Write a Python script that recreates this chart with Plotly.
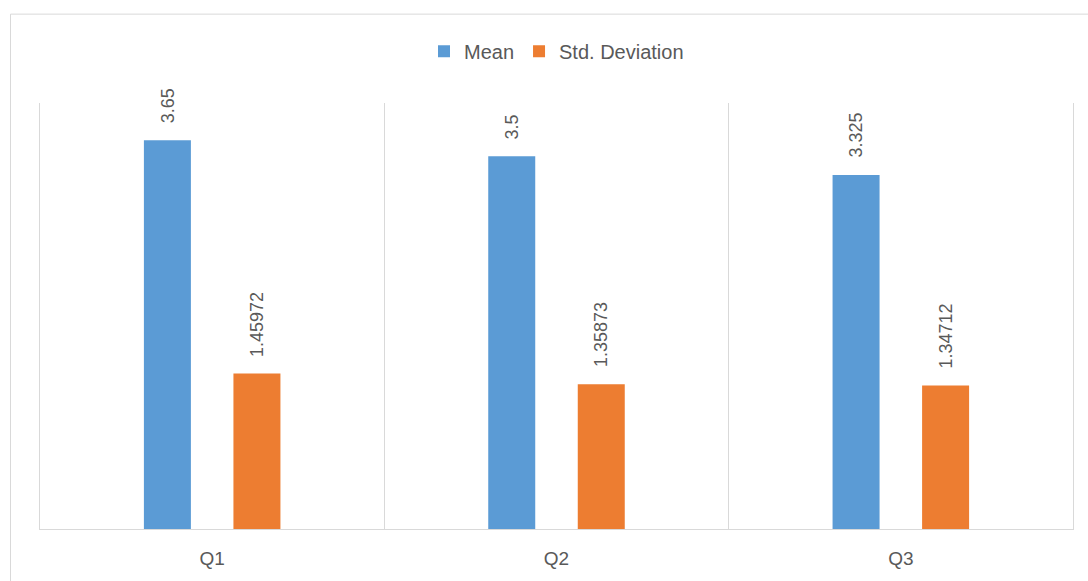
import plotly.graph_objects as go

# Survey question summary statistics
questions = ["Q1", "Q2", "Q3"]
mean_values = [3.65, 3.5, 3.325]
std_values = [1.45972, 1.35873, 1.34712]

series_names = ["Mean", "Std. Deviation"]
series_colors = ["#5B9BD5", "#ED7D31"]

TEXT_COLOR = "#595959"
LINE_COLOR = "#D9D9D9"
FONT = "Liberation Sans, Arial, sans-serif"

W, H = 1088, 581
M_L, M_R, M_T, M_B = 40, 15, 103, 49
BARGAP = 0.48

fig = go.Figure()
for name, vals, color in zip(series_names, [mean_values, std_values], series_colors):
    fig.add_trace(go.Bar(
        name=name, x=questions, y=vals, marker=dict(color=color, line=dict(width=0)),
        hoverinfo="x+y",
    ))

# value labels above each bar, rotated to read upwards
plot_w = W - M_L - M_R
slot = plot_w / len(questions) * (1 - BARGAP) / len(series_names)
for i, vals in enumerate([mean_values, std_values]):
    shift = (i - (len(series_names) - 1) / 2) * slot
    for q, v in zip(questions, vals):
        fig.add_annotation(
            x=q, y=v, xref="x", yref="y", text=f"{v:g}", showarrow=False,
            textangle=-90, xanchor="center", yanchor="bottom",
            xshift=shift, yshift=15,
            font=dict(family=FONT, size=18, color=TEXT_COLOR),
        )

# outer chart border
fig.add_shape(
    type="rect", xref="paper", yref="paper",
    x0=(10.5 - M_L) / plot_w, x1=(W + 5 - M_L) / plot_w,
    y0=-(H + 5 - (H - M_B)) / (H - M_T - M_B),
    y1=(H - M_B - 13.5) / (H - M_T - M_B),
    line=dict(color=LINE_COLOR, width=1), fillcolor="rgba(0,0,0,0)", layer="below",
)

fig.update_layout(
    width=W, height=H,
    margin=dict(l=M_L, r=M_R, t=M_T, b=M_B),
    paper_bgcolor="white", plot_bgcolor="white",
    barmode="group", bargap=BARGAP, bargroupgap=0.475,
    font=dict(family=FONT, color=TEXT_COLOR),
    showlegend=True,
    legend=dict(
        orientation="h", x=0.5, xanchor="center",
        y=(H - M_B - 51) / (H - M_T - M_B), yanchor="middle",
        font=dict(family=FONT, size=20, color=TEXT_COLOR),
        itemwidth=30, bgcolor="rgba(0,0,0,0)",
    ),
    xaxis=dict(
        type="category", showline=True, linecolor=LINE_COLOR, linewidth=1,
        showgrid=True, gridcolor=LINE_COLOR, gridwidth=1, tickson="boundaries",
        ticks="", ticklabelstandoff=12,
        tickfont=dict(family=FONT, size=19, color=TEXT_COLOR),
        fixedrange=True,
    ),
    yaxis=dict(
        range=[0, 4], showline=True, mirror=True, linecolor=LINE_COLOR, linewidth=1,
        showgrid=False, zeroline=False, showticklabels=False, ticks="",
        fixedrange=True,
    ),
)

fig.write_html("out.html")
